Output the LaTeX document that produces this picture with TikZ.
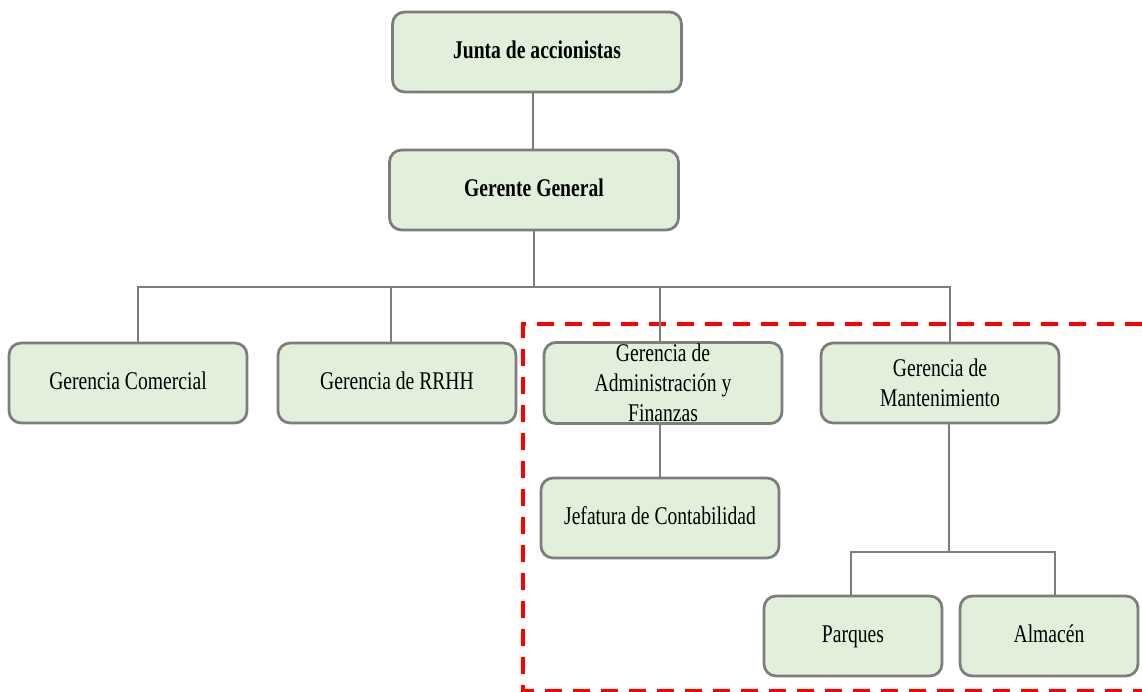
\documentclass[tikz,border=0pt]{standalone}
\usepackage{fontspec}
\setmainfont[FakeStretch=0.77]{Liberation Serif}
\usetikzlibrary{positioning,calc}
\definecolor{boxfill}{RGB}{226,239,218}
\definecolor{boxline}{RGB}{125,125,125}
\definecolor{dashred}{RGB}{255,0,0}
\begin{document}
\begin{tikzpicture}[x=0.02cm,y=-0.02cm,
				box/.style={draw=boxline,fill=boxfill,line width=0.055cm,rounded corners=0.24cm,
					minimum width=4.76cm,minimum height=1.6cm,align=center,inner sep=1pt,
					font=\fontsize{14.5}{17}\selectfont},
				onerow/.style={box,text height=1.7ex,text depth=0pt},
				link/.style={draw=boxline,line width=0.04cm}]
				\useasboundingbox (0,0) rectangle (1142,692);
				% zona marcada
				\draw[dashred,line width=0.08cm,dash pattern=on 0.34cm off 0.22cm] (1170,324) -- (523,324) -- (523,691) -- (1170,691);
				\node[onerow,minimum width=5.78cm] (junta) at (537,52)   {\textbf{Junta de accionistas}};
				\node[onerow,minimum width=5.78cm] (gg)    at (534,190)  {\textbf{Gerente General}};
				\node[onerow] (com)   at (128,383)  {Gerencia Comercial};
				\node[onerow] (rrhh)  at (397,383)  {Gerencia de RRHH};
				\node[box]    (adm)   at (663,383)  {Gerencia de\\Administración y\\Finanzas};
				\node[box]    (mant)  at (940,383)  {Gerencia de\\Mantenimiento};
				\node[onerow] (jef)   at (660,518)  {Jefatura de Contabilidad};
				\node[onerow,minimum width=3.56cm] (parq) at (853,636) {Parques};
				\node[onerow,minimum width=3.56cm] (alm)  at (1049,636) {Almacén};
				\coordinate (busA) at (534,287);
				\coordinate (busB) at (949,552);
				
				\draw[link] ([shift={(-4,0)}]junta.south) -- ([shift={(-4,0)}]junta.south |- gg.north);
				\draw[link] (gg.south) -- (busA);
				\draw[link] ([shift={(10,0)}]com.north) |- (busA) -| ([shift={(10,0)}]mant.north);
				\draw[link] ([shift={(-6,0)}]rrhh.north) -- ([shift={(-6,0)}]rrhh.north |- busA);
				\draw[link] ([shift={(-3,0)}]adm.north) -- ([shift={(-3,0)}]adm.north |- busA);
				\draw[link] (jef.north) -- (jef.north |- adm.south);
				\draw[link] ([shift={(9,0)}]mant.south) -- (busB);
				\draw[link] ([shift={(-2,0)}]parq.north) |- (busB) -| ([shift={(6,0)}]alm.north);
			\end{tikzpicture}
\end{document}
